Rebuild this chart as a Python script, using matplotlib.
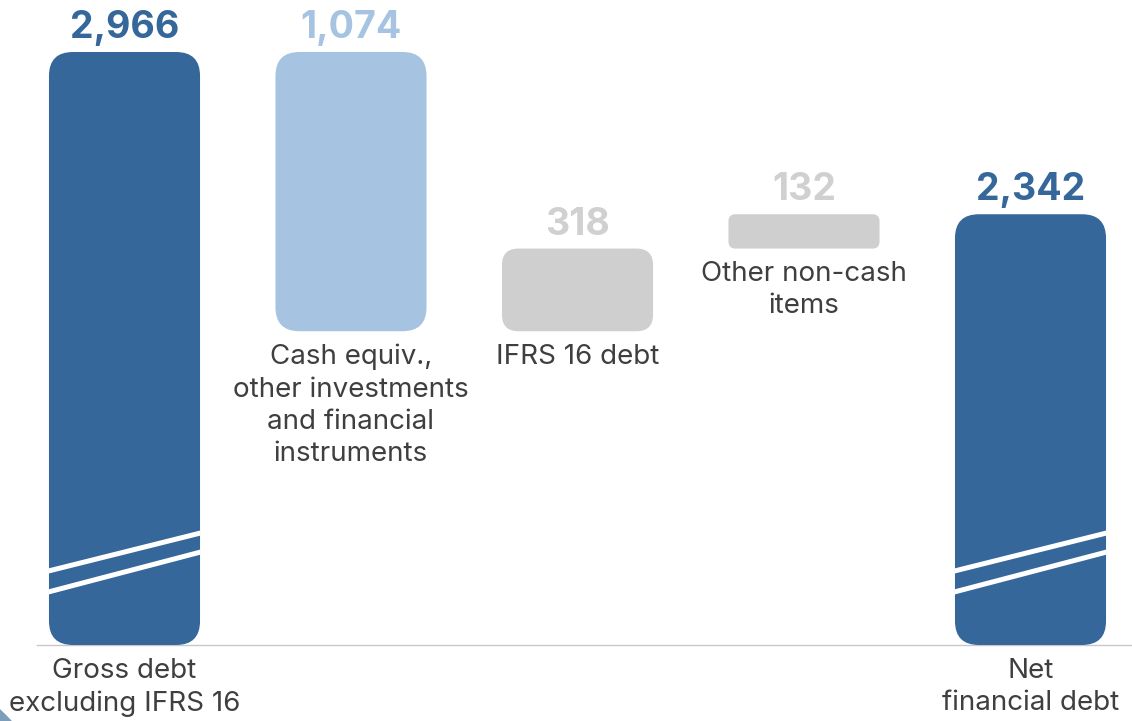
import matplotlib
matplotlib.use("Agg")
import matplotlib.pyplot as plt
from matplotlib.patches import FancyBboxPatch, Circle

# ---- data -------------------------------------------------------------
categories = [
    "Gross debt\nexcluding IFRS 16",
    "Cash equiv.,\nother investments\nand financial\ninstruments",
    "IFRS 16 debt",
    "Other non-cash\nitems",
    "Net\nfinancial debt",
]
values = [2966, -1074, 318, 132, 2342]
value_labels = ["2,966", "1,074", "318", "132", "2,342"]
kinds = ["total", "change", "change", "change", "total"]

# ---- style ------------------------------------------------------------
DARK = "#35679A"
LIGHT = "#A6C4E2"
GREY = "#D0CFD0"
TEXT = "#3F3F3F"
bar_colors = [DARK, LIGHT, GREY, GREY, DARK]
label_colors = [DARK, LIGHT, "#D0D0D0", "#D0D0D0", DARK]

W, H, DPI = 1132, 721, 100
PX_PER_UNIT = 0.26          # vertical scale (pixels per value unit)
X0, DX = 124.5, 226.5       # pixel centre of first category, category spacing
TOP_PX, BASE_PX = 52, 645   # pixel row of the tallest bar top and of the axis floor
BAR_W = 0.667

fig = plt.figure(figsize=(W / DPI, H / DPI), dpi=DPI)
ax = fig.add_axes([0, 0, 1, 1])
ax.set_axis_off()

vmax = max(values)
def px_to_val(p):
    return vmax - (p - TOP_PX) / PX_PER_UNIT

ax.set_xlim(-X0 / DX, (W - X0) / DX)
ax.set_ylim(px_to_val(H), px_to_val(0))
floor = px_to_val(BASE_PX)

# aspect between value units and category units, for circular corners
aspect = (1 / PX_PER_UNIT) / (1 / DX)

# ---- waterfall geometry ----------------------------------------------
running = 0
spans = []
for v, k in zip(values, kinds):
    if k == "total":
        spans.append((floor, v))
        running = v
    else:
        lo, hi = sorted((running, running + v))
        spans.append((lo, hi))
        running += v

for i, ((lo, hi), col) in enumerate(zip(spans, bar_colors)):
    h_px = (hi - lo) * PX_PER_UNIT
    r_px = min(24, 0.2 * h_px)
    r = r_px / DX
    patch = FancyBboxPatch(
        (i - BAR_W / 2, lo), BAR_W, hi - lo,
        boxstyle=f"round,pad=0,rounding_size={r}",
        mutation_aspect=aspect, facecolor=col, edgecolor="none", zorder=2,
    )
    ax.add_patch(patch)

    # value label above each bar
    ax.annotate(value_labels[i], (i, hi), xytext=(0, 10), textcoords="offset points",
                ha="center", va="baseline", fontsize=27, fontweight="bold",
                family="Inter", color=label_colors[i], zorder=3)

    # category label below each bar (totals sit below the axis floor)
    ax.annotate(categories[i], (i, lo), xytext=(0, -9), textcoords="offset points",
                ha="center", va="top", fontsize=20, family="Inter",
                color=TEXT, linespacing=1.32, zorder=3)

    # axis-break marks across the truncated total bars
    if kinds[i] == "total":
        x_l, x_r = i - BAR_W / 2 - 0.02, i + BAR_W / 2 + 0.02
        for off_l, off_r in ((73, 113), (52, 94)):
            ln, = ax.plot([x_l, x_r],
                          [floor + off_l / PX_PER_UNIT, floor + off_r / PX_PER_UNIT],
                          color="white", lw=3.6, solid_capstyle="butt", zorder=2.5)
            ln.set_clip_path(patch)

# axis floor line
ax.plot([(37 - X0) / DX, (W - X0) / DX], [floor, floor],
        color="#C8C8C8", lw=1.0, zorder=1)

# decorative corner disc (pixel coordinates, origin bottom-left)
corner = Circle((-100, -100), 150, transform=None, facecolor="#7E9DB8",
                edgecolor="none", zorder=0)
fig.patches.append(corner)

fig.savefig("out.png", dpi=DPI)
